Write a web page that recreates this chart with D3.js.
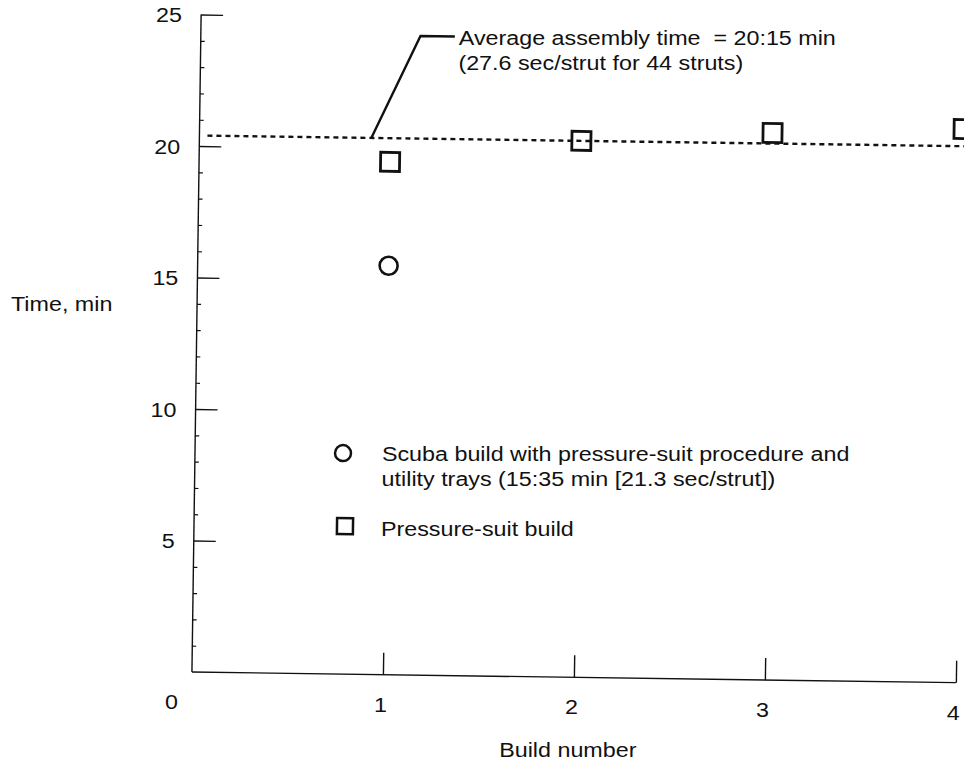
<!DOCTYPE html>
<html>
<head>
<meta charset="utf-8">
<script src="https://cdn.jsdelivr.net/npm/d3@7"></script>
<style>
  html, body { margin: 0; padding: 0; background: #fff; }
  svg { display: block; }
  text { font-family: "Liberation Sans", Arial, Helvetica, sans-serif; fill: #111; }
</style>
</head>
<body>
<svg id="chart" width="964" height="766"></svg>
<script>
// ---- data ----
const xTicks = [1, 2, 3, 4];
const xTickLabels = ["1", "2", "3", "4"];
const yMajorTicks = [5, 10, 15, 20, 25];
const yTickLabels = ["5", "10", "15", "20", "25"];
const yMinorTicks = d3.range(1, 25).filter(v => v % 5 !== 0);
const pressureBuild = [1, 2, 3, 4];
const pressureTime = [19.5, 20.4, 20.8, 21.05];
const scubaBuild = [1];
const scubaTime = [15.55];
const averageTime = 20.4;
const leaderX = [0.9, 1.15, 1.33];
const leaderY = [20.4, 24.3, 24.3];
const annotationLines = ["Average assembly time \u00a0= 20:15 min", "(27.6 sec/strut for 44 struts)"];
const legendLabels = [["Scuba build with pressure-suit procedure and", "utility trays (15:35 min [21.3 sec/strut])"], ["Pressure-suit build"]];
const xTitle = "Build number";
const yTitle = "Time, min";

// ---- layout ----
const svg = d3.select("#chart");
const ANG = 0.8, CX = 480, CY = 383;
const root = svg.append("g").attr("transform", `rotate(${ANG}, ${CX}, ${CY})`);
const textLayer = svg.append("g");
const x = d3.scaleLinear().domain([0, 4]).range([196, 960]);
const y = d3.scaleLinear().domain([0, 25]).range([676, 18.5]);
const FS = 21, SX = 1.11;
const ink = "#111";
const cs = Math.cos(ANG * Math.PI / 180), sn = Math.sin(ANG * Math.PI / 180);
function rot(px, py) {
  return [CX + (px - CX) * cs - (py - CY) * sn, CY + (px - CX) * sn + (py - CY) * cs];
}

function label(str, px, py, anchor) {
  const [rx, ry] = rot(px, py);
  return textLayer.append("text")
    .attr("transform", `translate(${rx.toFixed(1)},${ry.toFixed(1)}) scale(${SX},1)`)
    .attr("text-anchor", anchor || "start")
    .attr("font-size", FS)
    .text(str);
}

// y axis
const yAxis = d3.axisRight(y).tickValues(yMajorTicks).tickSize(22).tickFormat("");
const yAxisG = root.append("g").attr("transform", `translate(${x(0)},0)`).call(yAxis);
yAxisG.select(".domain").attr("d", `M0,${y(0)}V${y(25)}`);
yAxisG.selectAll("line, path").attr("stroke", ink).attr("stroke-width", 1.4);
const yMinor = d3.axisRight(y).tickValues(yMinorTicks).tickSize(4).tickFormat("");
const yMinorG = root.append("g").attr("transform", `translate(${x(0)},0)`).call(yMinor);
yMinorG.select(".domain").remove();
yMinorG.selectAll("line").attr("stroke", ink).attr("stroke-width", 1.2);
yMajorTicks.forEach((v, i) => label(yTickLabels[i], x(0) - 19, y(v) + 8, "end"));

// x axis
const xAxis = d3.axisTop(x).tickValues(xTicks).tickSize(22).tickFormat("");
const xAxisG = root.append("g").attr("transform", `translate(0,${y(0)})`).call(xAxis);
xAxisG.select(".domain").attr("d", `M${x(0)},0H${x(4)}`);
xAxisG.selectAll("line, path").attr("stroke", ink).attr("stroke-width", 1.4);
xTicks.forEach((v, i) => label(xTickLabels[i], x(v) - 2, y(0) + 37, "middle"));
label("0", x(0) - 20, y(0) + 37, "middle");

// titles
label(xTitle, (x(0) + x(4)) / 2 - 5, y(0) + 80, "middle");
label(yTitle, 10, 318, "start");

// average line
root.append("line")
  .attr("x1", x(0) + 8).attr("x2", 975)
  .attr("y1", y(averageTime)).attr("y2", y(averageTime))
  .attr("stroke", ink).attr("stroke-width", 2.4).attr("stroke-dasharray", "5,4");

// leader
const leader = d3.line().x(d => x(d[0])).y(d => y(d[1]));
root.append("path")
  .attr("d", leader(leaderX.map((v, i) => [v, leaderY[i]])))
  .attr("fill", "none").attr("stroke", ink).attr("stroke-width", 2.4);
annotationLines.forEach((t, i) => label(t, x(leaderX[2]) + 4, y(leaderY[2]) + 8 + i * 25, "start"));

// markers
root.selectAll("rect.pt").data(pressureBuild).join("rect").attr("class", "pt")
  .attr("x", (d) => x(d) - 9.5).attr("y", (d, i) => y(pressureTime[i]) - 9.5)
  .attr("width", 19).attr("height", 19)
  .attr("fill", "none").attr("stroke", ink).attr("stroke-width", 2.8);
root.selectAll("circle.pt").data(scubaBuild).join("circle").attr("class", "pt")
  .attr("cx", d => x(d)).attr("cy", (d, i) => y(scubaTime[i])).attr("r", 9)
  .attr("fill", "none").attr("stroke", ink).attr("stroke-width", 2.6);

// legend
const lg = root.append("g");
lg.append("circle").attr("cx", 344).attr("cy", 455).attr("r", 8)
  .attr("fill", "none").attr("stroke", ink).attr("stroke-width", 2.5);
legendLabels[0].forEach((t, i) => label(t, 383, 462 + i * 25, "start"));
lg.append("rect").attr("x", 339).attr("y", 520).attr("width", 16).attr("height", 16)
  .attr("fill", "none").attr("stroke", ink).attr("stroke-width", 2.5);
legendLabels[1].forEach((t, i) => label(t, 383, 537, "start"));
</script>
</body>
</html>
